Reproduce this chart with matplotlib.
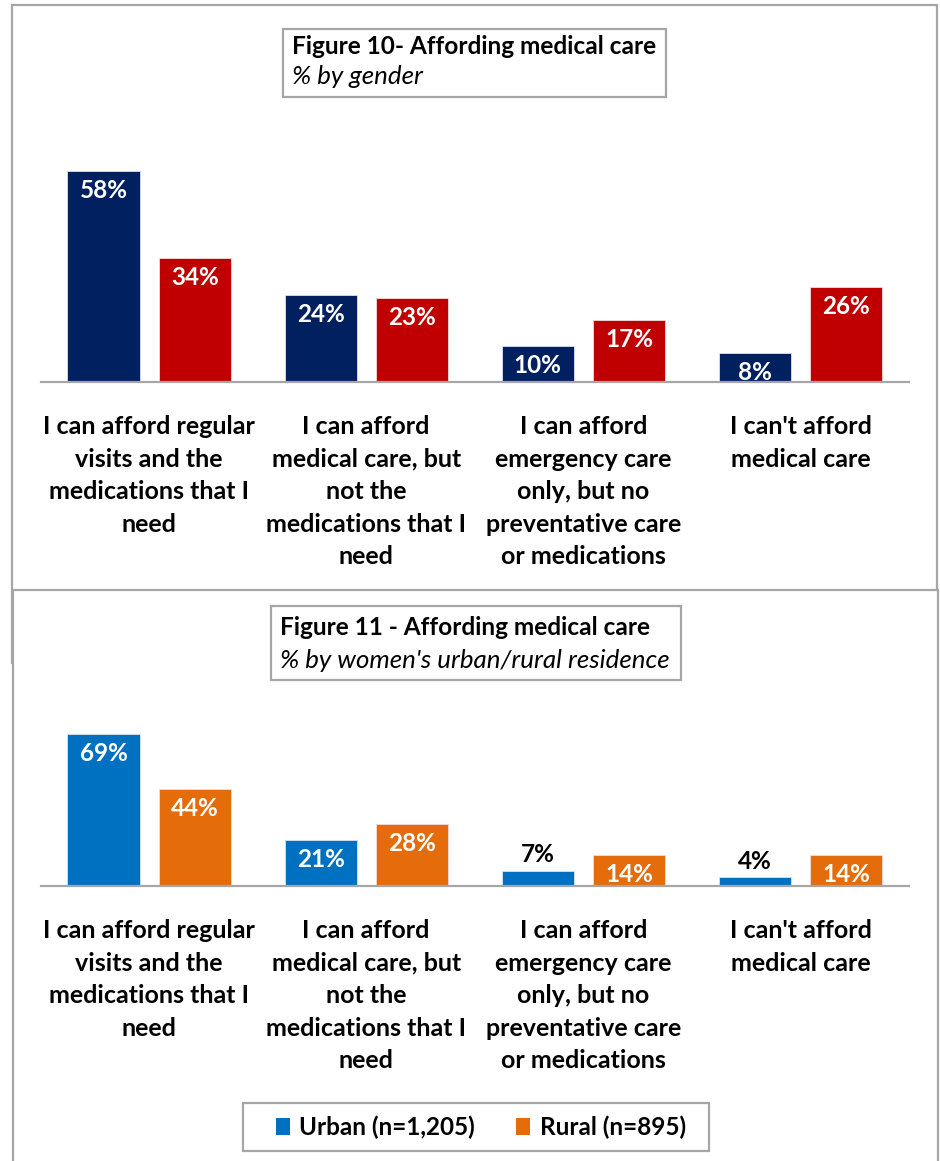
import numpy as np
import matplotlib.pyplot as plt
from matplotlib.patches import Rectangle

W, H = 940, 1161

categories = [
    "I can afford regular\nvisits and the\nmedications that I\nneed",
    "I can afford\nmedical care, but\nnot the\nmedications that I\nneed",
    "I can afford\nemergency care\nonly, but no\npreventative care\nor medications",
    "I can't afford\nmedical care",
]

# Figure 10: by gender
men = [58, 24, 10, 8]
women = [34, 23, 17, 26]

# Figure 11: women by residence
urban = [69, 21, 7, 4]
rural = [44, 28, 14, 14]
urban_label = "Urban (n=1,205)"
rural_label = "Rural (n=895)"

NAVY, RED = "#002060", "#C00000"
BLUE, ORANGE = "#0070C0", "#E46C0A"
GRAY = "#A6A6A6"

plt.rcParams['font.family'] = ['Lato', 'DejaVu Sans']
VFS = 17.5   # value labels
CFS = 18     # category labels
TFS = 17.6   # bold titles
SFS = 18.6   # italic subtitles


def fx(x):
    return x / W


def fy(y):
    return 1 - y / H


def frame(fig, x0, y0, x1, y1, lw=1.6, z=0):
    r = Rectangle((fx(x0), fy(y1)), fx(x1) - fx(x0), fy(y0) - fy(y1),
                  transform=fig.transFigure, facecolor='white',
                  edgecolor=GRAY, lw=lw, zorder=z)
    fig.patches.append(r)


def bar_panel(fig, top, base, scale, s1, s2, c1, c2):
    ax = fig.add_axes([fx(40.5), fy(base), fx(909) - fx(40.5), (base - top) / H])
    ax.set_ylim(0, (base - top) / scale)
    ax.set_xlim(-0.5, 3.5)
    ax.patch.set_alpha(0)
    x = np.arange(len(categories))
    w, off = 0.332, 0.21
    b1 = ax.bar(x - off, s1, w, color=c1, edgecolor='#D9E1F2', lw=0.6)
    b2 = ax.bar(x + off, s2, w, color=c2, edgecolor='#F2DCDB', lw=0.6)
    for bars, vals in ((b1, s1), (b2, s2)):
        for b, v in zip(bars, vals):
            cx = b.get_x() + b.get_width() / 2
            if v * scale < 22:
                # too short to hold its label: put it above in black
                ax.annotate(f"{v}%", (cx, v), xytext=(0, 3), textcoords='offset points',
                            ha='center', va='bottom', fontsize=VFS, fontweight='bold',
                            color='black')
            else:
                ax.annotate(f"{v}%", (cx, v), xytext=(0, -14), textcoords='offset points',
                            ha='center', va='center', fontsize=VFS, fontweight='bold',
                            color='white')
    for s in ('top', 'left', 'right'):
        ax.spines[s].set_visible(False)
    ax.spines['bottom'].set_color(GRAY)
    ax.spines['bottom'].set_linewidth(1.6)
    ax.set_yticks([])
    ax.set_xticks(x)
    ax.set_xticklabels(categories, fontsize=CFS, fontweight='bold', linespacing=1.5,
                       va='top', ha='center')
    ax.tick_params(axis='x', length=0, pad=24)
    return ax, b1, b2


fig = plt.figure(figsize=(W / 100, H / 100), dpi=100)

# panel frames, the lower panel overlapping the upper one
frame(fig, 11.5, 5, 936.5, 663, z=-2)
frame(fig, 12.5, 590, 938.5, 1168, z=-1)

# Figure 10
bar_panel(fig, 100, 382, 3.64, men, women, NAVY, RED)
frame(fig, 283, 29, 666, 97, z=1)
fig.text(fx(292), fy(46), "Figure 10- Affording medical care", fontsize=TFS,
         fontweight='bold', va='center', ha='left', zorder=2)
fig.text(fx(292), fy(77), "% by gender", fontsize=SFS, style='italic',
         va='center', ha='left', zorder=2)

# Figure 11
ax2, u_bars, r_bars = bar_panel(fig, 700, 886, 2.2, urban, rural, BLUE, ORANGE)
frame(fig, 271, 606, 681, 680, z=1)
fig.text(fx(280), fy(628), "Figure 11 - Affording medical care", fontsize=TFS,
         fontweight='bold', va='center', ha='left', zorder=2)
fig.text(fx(280), fy(660), "% by women's urban/rural residence", fontsize=SFS,
         style='italic', va='center', ha='left', zorder=2)

# legend with its own box
frame(fig, 243, 1103, 709, 1151, z=1)
leg = fig.legend([u_bars, r_bars], [urban_label, rural_label], ncol=2,
                 loc='center', bbox_to_anchor=(fx(481), fy(1127)),
                 prop={'size': 17.5, 'weight': 'bold'}, frameon=False,
                 handlelength=0.55, handleheight=0.7, handletextpad=0.4,
                 columnspacing=1.7)
leg.set_zorder(3)
for h in leg.legend_handles:
    h.set_edgecolor('none')

fig.savefig('out.png', dpi=100)
